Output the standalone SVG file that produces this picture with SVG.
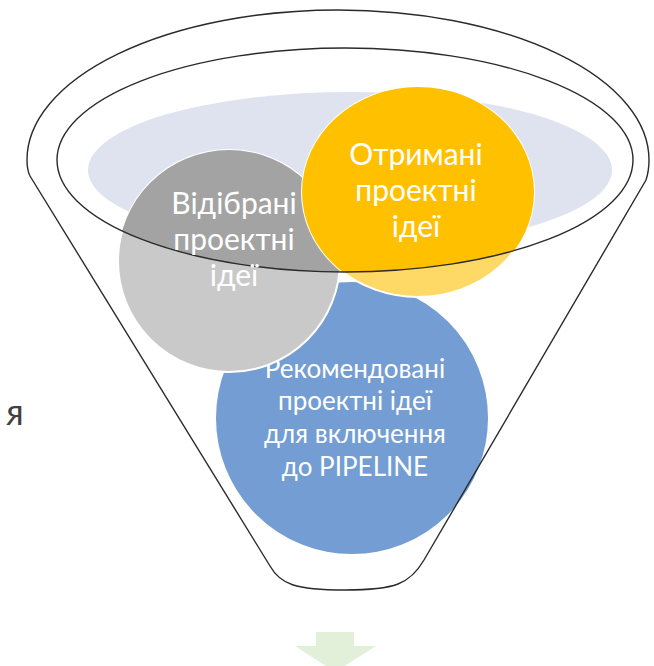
<svg xmlns="http://www.w3.org/2000/svg" width="654" height="666" viewBox="0 0 654 666">
<defs>
<style>
.ln{fill:none;stroke:#2b2b2b;stroke-width:1.4}
.t{font-family:Lato,"Open Sans","DejaVu Sans",sans-serif;fill:#ffffff;text-anchor:middle}
.big{font-size:30px}
.mid{font-size:26px}
.ring{stroke:#ffffff;stroke-width:2}
</style>
<clipPath id="inner"><ellipse cx="345" cy="160" rx="288" ry="112"/></clipPath>
</defs>
<rect width="654" height="666" fill="#ffffff"/>
<g id="funnel">
<path d="M30,176 C27,170 27,165 27,160 A311,150 0 0 1 649,160 C649,168 648,174 646,180 L424,560 C410,584 395,590 345,590 C295,590 280,584 270,566 Z" fill="#ffffff" stroke="none"/>
<ellipse cx="350" cy="170" rx="262" ry="78" fill="#dfe3f0"/>
</g>
<g id="recommended">
<circle cx="352" cy="418" r="137" fill="#739dd3" class="ring"/>
<text class="t mid" x="355" y="378">Рекомендовані</text>
<text class="t mid" x="355" y="410">проектні ідеї</text>
<text class="t mid" x="355" y="443">для включення</text>
<text class="t mid" x="355" y="476">до PIPELINE</text>
</g>
<g id="selected">
<circle cx="229" cy="261" r="111" fill="#c9c9c9" class="ring"/>
<circle cx="229" cy="261" r="111" fill="#a3a3a3" clip-path="url(#inner)"/>
</g>
<g id="received">
<ellipse cx="418" cy="192" rx="116" ry="105" fill="#ffd966" class="ring"/>
<ellipse cx="418" cy="192" rx="116" ry="105" fill="#ffc000" clip-path="url(#inner)"/>
</g>
<g id="outlines">
<path class="ln" d="M30,176 C27,170 27,165 27,160 A311,150 0 0 1 649,160 C649,168 648,174 646,180 L424,560 C410,584 395,590 345,590 C295,590 280,584 270,566 Z"/>
<ellipse class="ln" cx="345" cy="160" rx="288" ry="112"/>
</g>
<g id="labels">
<text class="t big" x="234" y="214">Відібрані</text>
<text class="t big" x="234" y="250">проектні</text>
<text class="t big" x="234" y="286">ідеї</text>
<text class="t big" x="416" y="165">Отримані</text>
<text class="t big" x="416" y="201">проектні</text>
<text class="t big" x="416" y="237">ідеї</text>
</g>
<g id="arrow">
<polygon points="316,632 354,632 354,646 376,646 335,672 295,646 316,646" fill="#e2efd9"/>
</g>
<text x="6" y="425" font-family="Lato,'Open Sans',sans-serif" font-size="36" fill="#404040">я</text>
</svg>
